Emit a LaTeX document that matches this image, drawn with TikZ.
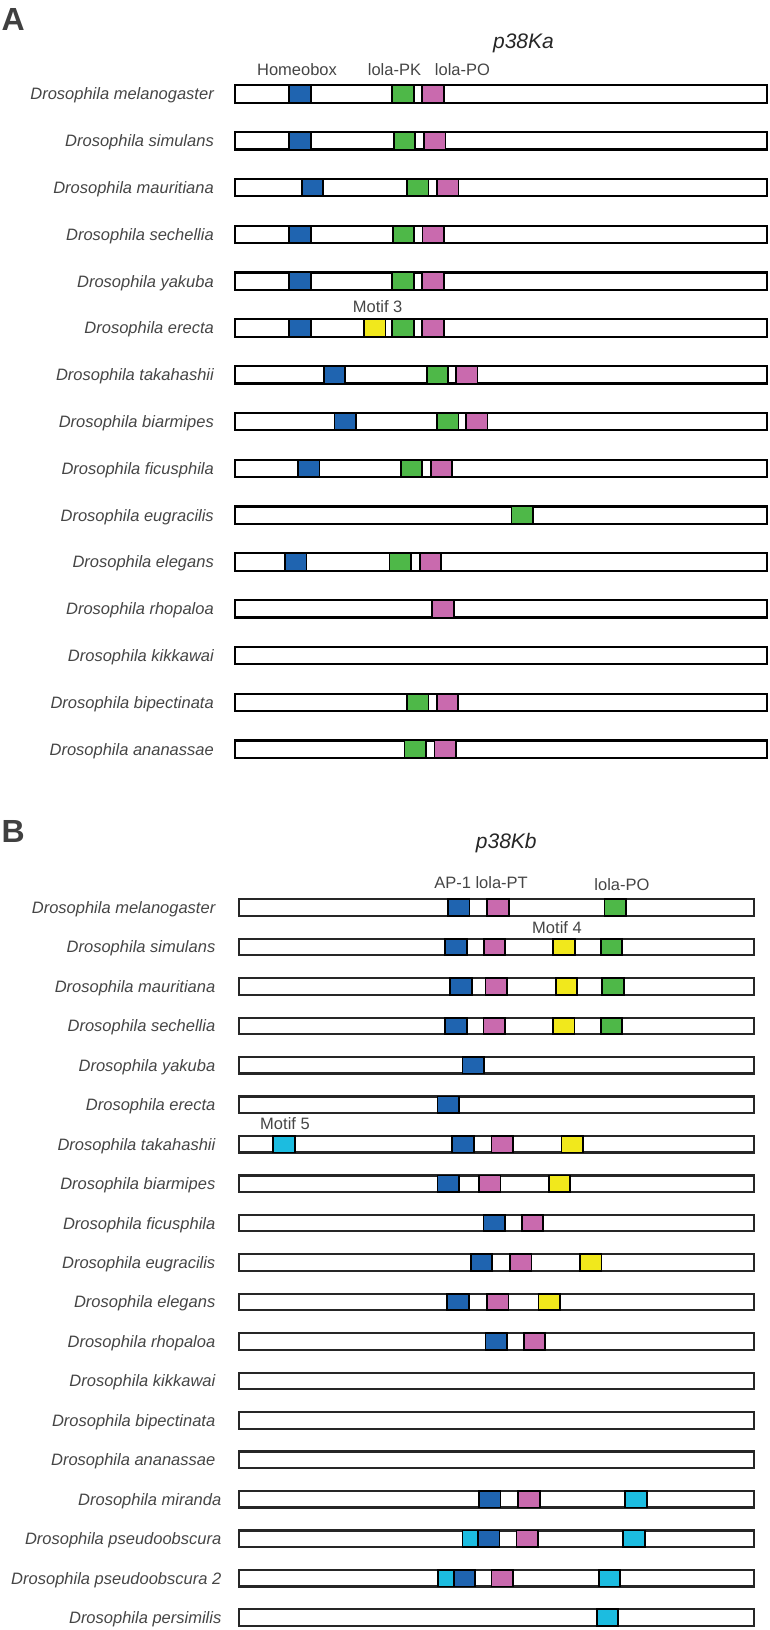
\documentclass[tikz,border=0pt]{standalone}
\usepackage{fontspec}
\setmainfont{Liberation Sans}
\usepackage{xcolor}
\usetikzlibrary{positioning,calc}

\definecolor{labgray}{HTML}{454545}
\definecolor{homeo}{HTML}{1F64B0}
\definecolor{lolagreen}{HTML}{4EB848}
\definecolor{lolapink}{HTML}{C96AAE}
\definecolor{motifyellow}{HTML}{F1E81C}
\definecolor{motifcyan}{HTML}{1CBCE0}

\begin{document}
\begin{tikzpicture}[x=1pt, y=-1pt,
    every node/.style={font=\fontsize{16.5}{19}\selectfont, text=labgray, inner sep=0pt},
    species/.style={anchor=base east, font=\fontsize{16.5}{19}\selectfont\itshape},
    sitelabel/.style={anchor=base},
    genetitle/.style={anchor=base, text=black!85, font=\fontsize{21}{24}\selectfont\itshape},
    panel/.style={anchor=base west, text=black!75, font=\fontsize{32}{36}\selectfont\bfseries},
    genebar/.style={draw=black, line width=2.2pt, fill=white},
    site/.style={draw=black, line width=1.8pt},
    declare function={rowA(\r)=94+46.8*(\r-1); rowB(\r)=907.5+39.45*(\r-1);}]
\useasboundingbox (0,0) rectangle (769,1630);

%% ---------------- Panel A ----------------
\node[panel] (panelA) at (1.5,30) {A};
\node[genetitle] (titleA) at (523.5,48.5) {p38Ka};

% Species and bars
\foreach \sp [count=\i] in {melanogaster, simulans, mauritiana, sechellia, yakuba, erecta, takahashii, biarmipes, ficusphila, eugracilis, elegans, rhopaloa, kikkawai, bipectinata, ananassae} {
    \pgfmathsetmacro{\yc}{rowA(\i)}
    \node[species] (spA\i) at (214,\yc+5.9) {Drosophila \sp};
    \draw[genebar] (235,\yc-8.75) rectangle (767,\yc+8.75);
}

% Homeobox
\foreach \r/\x in {1/289.3, 2/289.3, 3/301.8, 4/289.3, 5/289.3, 6/289.3, 7/323.7, 8/334.5, 9/298, 11/285}
    \draw[site, fill=homeo] (\x,{rowA(\r)-8.75}) rectangle +(21.5,17.5);

% lola-PK
\foreach \r/\x in {1/392.3, 2/393.8, 3/407, 4/392.8, 5/392.3, 6/392.3, 7/426.7, 8/437, 9/400.7, 10/511.5, 11/389.4, 14/407, 15/404.5}
    \draw[site, fill=lolagreen] (\x,{rowA(\r)-8.75}) rectangle +(21.5,17.5);

% lola-PO
\foreach \r/\x in {1/422.2, 2/424, 3/437, 4/422.5, 5/422.2, 6/422.2, 7/456, 8/466, 9/430.6, 11/419.6, 12/432.3, 14/436.6, 15/434.4}
    \draw[site, fill=lolapink] (\x,{rowA(\r)-8.75}) rectangle +(21.5,17.5);

% Motif 3
\draw[site, fill=motifyellow] (364,{rowA(6)-8.75}) rectangle +(21.5,17.5);

% Site labels
\node[sitelabel] (homeoLab) at (297,75) {Homeobox};
\node[sitelabel] (pkLab) at (394.5,75) {lola-PK};
\node[sitelabel] (poLab) at (462.5,75) {lola-PO};
\node[sitelabel] (motifThreeLab) at (377.6,312) {Motif 3};

%% ---------------- Panel B ----------------
\node[panel] (panelB) at (1.5,842) {B};
\node[genetitle] (titleB) at (506.3,848) {p38Kb};

% Species and bars
\foreach \sp [count=\i] in {melanogaster, simulans, mauritiana, sechellia, yakuba, erecta, takahashii, biarmipes, ficusphila, eugracilis, elegans, rhopaloa, kikkawai, bipectinata, ananassae, miranda, pseudoobscura, pseudoobscura 2, persimilis} {
    \pgfmathsetmacro{\yc}{rowB(\i)}
    \pgfmathsetmacro{\xr}{\i>15 ? 221.5 : 215.5}
    \node[species] (spB\i) at (\xr,\yc+5.9) {Drosophila \sp};
    \draw[genebar, draw=black!85] (239,\yc-8.25) rectangle (754,\yc+8.25);
}

% Motif 5 (short copies next to AP-1)
\foreach \r/\x in {17/462.4, 18/438}
    \draw[site, fill=motifcyan] (\x,{rowB(\r)-8.25}) rectangle +(16,16.5);

% AP-1
\foreach \r/\x in {1/448, 2/445.3, 3/450.2, 4/445.3, 5/462.4, 6/437.4, 7/452.1, 8/437.4, 9/483.5, 10/470.8, 11/447.2, 12/485.5, 16/479, 17/478, 18/453.6}
    \draw[site, fill=homeo] (\x,{rowB(\r)-8.25}) rectangle +(21.5,16.5);

% lola-PT
\foreach \r/\x in {1/487.3, 2/483.6, 3/485.5, 4/483.5, 7/491.4, 8/479, 9/521.8, 10/510, 11/487, 12/523.7, 16/518.3, 17/516.4, 18/491.4}
    \draw[site, fill=lolapink] (\x,{rowB(\r)-8.25}) rectangle +(21.5,16.5);

% lola-PO
\foreach \r/\x in {1/604.5, 2/600.8, 3/602.2, 4/600.7}
    \draw[site, fill=lolagreen] (\x,{rowB(\r)-8.25}) rectangle +(21.5,16.5);

% Motif 4
\foreach \r/\x in {2/553.2, 3/555.6, 4/553, 7/561.5, 8/548.7, 10/580, 11/538.5}
    \draw[site, fill=motifyellow] (\x,{rowB(\r)-8.25}) rectangle +(21.5,16.5);

% Motif 5
\foreach \r/\x in {7/273.2, 16/625.2, 17/623.3, 18/598.8, 19/596.8}
    \draw[site, fill=motifcyan] (\x,{rowB(\r)-8.25}) rectangle +(21.5,16.5);

% Site labels
\node[sitelabel] (apLab) at (452.7,888) {AP-1};
\node[sitelabel] (ptLab) at (501.7,888) {lola-PT};
\node[sitelabel] (poBLab) at (622,890) {lola-PO};
\node[sitelabel] (motifFourLab) at (557,933) {Motif 4};
\node[sitelabel] (motifFiveLab) at (285,1129) {Motif 5};
\end{tikzpicture}
\end{document}
